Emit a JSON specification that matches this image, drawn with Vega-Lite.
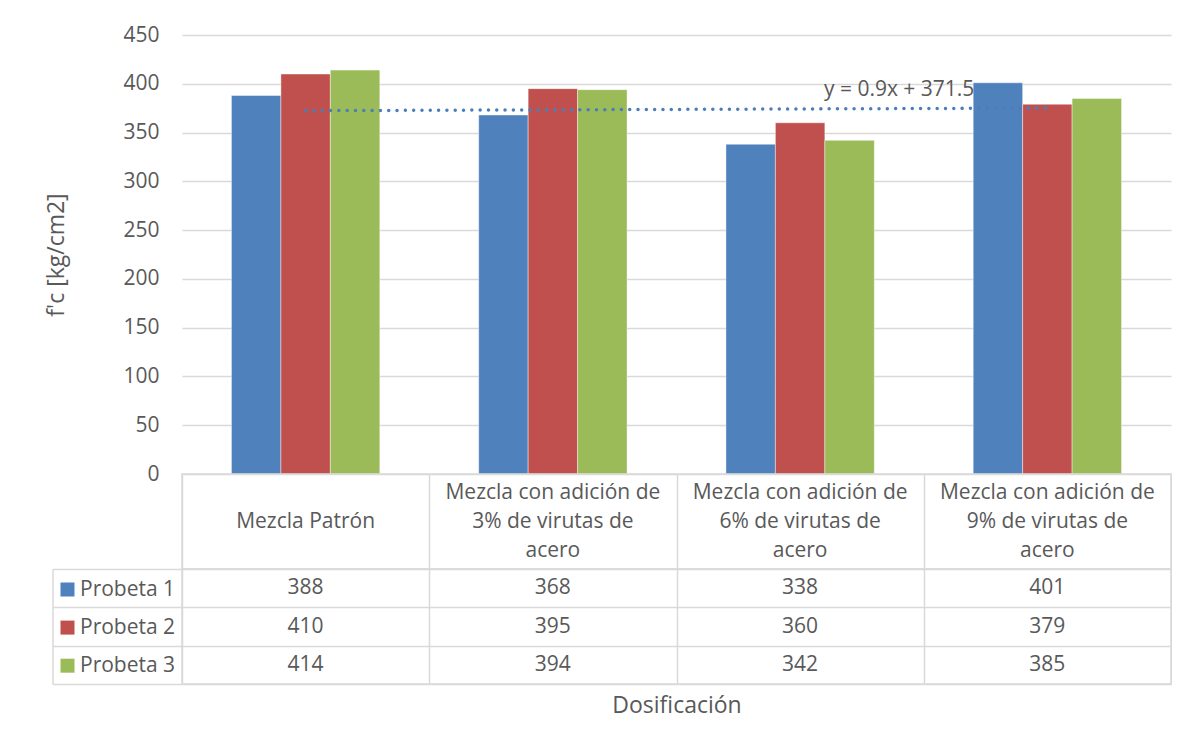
{
  "$schema": "https://vega.github.io/schema/vega-lite/v6.json",
  "background": "white",
  "padding": {"left": 45, "top": 24, "right": 0, "bottom": 0},
  "bounds": "flush",
  "config": {
    "font": "Open Sans",
    "view": {"stroke": null},
    "concat": {"spacing": 0},
    "axis": {
      "labelColor": "#595959",
      "titleColor": "#595959",
      "labelFont": "Open Sans",
      "titleFont": "Open Sans",
      "titleFontWeight": "normal",
      "gridColor": "#d9d9d9",
      "gridWidth": 1.5,
      "domainColor": "#d9d9d9",
      "tickColor": "#d9d9d9"
    },
    "legend": {
      "orient": "none",
      "legendX": -125,
      "legendY": 544,
      "padding": 0,
      "symbolType": "square",
      "symbolSize": 196,
      "symbolStrokeWidth": 0,
      "labelFont": "Open Sans",
      "labelFontSize": 21,
      "labelColor": "#595959",
      "labelOffset": 2,
      "rowPadding": 16.1
    }
  },
  "datasets": {
    "probetas": [
      {"Dosificacion": "Mezcla Patrón", "Probeta": "Probeta 1", "fc": 388},
      {"Dosificacion": "Mezcla Patrón", "Probeta": "Probeta 2", "fc": 410},
      {"Dosificacion": "Mezcla Patrón", "Probeta": "Probeta 3", "fc": 414},
      {"Dosificacion": "Mezcla con adición de 3% de virutas de acero", "Probeta": "Probeta 1", "fc": 368},
      {"Dosificacion": "Mezcla con adición de 3% de virutas de acero", "Probeta": "Probeta 2", "fc": 395},
      {"Dosificacion": "Mezcla con adición de 3% de virutas de acero", "Probeta": "Probeta 3", "fc": 394},
      {"Dosificacion": "Mezcla con adición de 6% de virutas de acero", "Probeta": "Probeta 1", "fc": 338},
      {"Dosificacion": "Mezcla con adición de 6% de virutas de acero", "Probeta": "Probeta 2", "fc": 360},
      {"Dosificacion": "Mezcla con adición de 6% de virutas de acero", "Probeta": "Probeta 3", "fc": 342},
      {"Dosificacion": "Mezcla con adición de 9% de virutas de acero", "Probeta": "Probeta 1", "fc": 401},
      {"Dosificacion": "Mezcla con adición de 9% de virutas de acero", "Probeta": "Probeta 2", "fc": 379},
      {"Dosificacion": "Mezcla con adición de 9% de virutas de acero", "Probeta": "Probeta 3", "fc": 385}
    ],
    "tendencia": [
      {"Dosificacion": "Mezcla Patrón", "valor": 372.4},
      {"Dosificacion": "Mezcla con adición de 3% de virutas de acero", "valor": 373.3},
      {"Dosificacion": "Mezcla con adición de 6% de virutas de acero", "valor": 374.2},
      {"Dosificacion": "Mezcla con adición de 9% de virutas de acero", "valor": 375.1}
    ],
    "ecuacion": [
      {"Dosificacion": "Mezcla con adición de 9% de virutas de acero", "valor": 375.1, "texto": "y = 0.9x + 371.5"}
    ],
    "categorias": [
      {"Dosificacion": "Mezcla Patrón", "lineas": ["Mezcla Patrón"]},
      {"Dosificacion": "Mezcla con adición de 3% de virutas de acero", "lineas": ["Mezcla con adición de", "3% de virutas de", "acero"]},
      {"Dosificacion": "Mezcla con adición de 6% de virutas de acero", "lineas": ["Mezcla con adición de", "6% de virutas de", "acero"]},
      {"Dosificacion": "Mezcla con adición de 9% de virutas de acero", "lineas": ["Mezcla con adición de", "9% de virutas de", "acero"]}
    ]
  },
  "spacing": 0,
  "resolve": {"scale": {"x": "independent", "y": "independent"}},
  "vconcat": [
    {
      "width": 989,
      "height": 439,
      "layer": [
        {
          "data": {"name": "probetas"},
          "mark": {"type": "bar", "stroke": "#ffffff", "strokeWidth": 0.6, "strokeOpacity": 0.7},
          "encoding": {
            "x": {
              "field": "Dosificacion", "type": "nominal",
              "scale": {"domain": ["Mezcla Patrón", "Mezcla con adición de 3% de virutas de acero", "Mezcla con adición de 6% de virutas de acero", "Mezcla con adición de 9% de virutas de acero"], "paddingInner": 0, "paddingOuter": 0},
              "axis": null
            },
            "xOffset": {
              "field": "Probeta", "type": "nominal",
              "scale": {"domain": ["Probeta 1", "Probeta 2", "Probeta 3"], "paddingInner": 0, "paddingOuter": 1.1}
            },
            "y": {
              "field": "fc", "type": "quantitative", "title": "f'c [kg/cm2]",
              "scale": {"domain": [0, 450], "nice": false},
              "axis": {
                "values": [0, 50, 100, 150, 200, 250, 300, 350, 400, 450],
                "grid": true, "domain": false, "ticks": false,
                "labelFontSize": 21, "labelPadding": 23,
                "titleFontSize": 23, "titlePadding": 54
              }
            },
            "color": {
              "field": "Probeta", "type": "nominal",
              "scale": {"domain": ["Probeta 1", "Probeta 2", "Probeta 3"], "range": ["#4F81BD", "#C0504D", "#9BBB59"]},
              "legend": {"title": null}
            }
          }
        },
        {
          "data": {"name": "tendencia"},
          "mark": {"type": "line", "color": "#4A7EBB", "strokeWidth": 3.5, "strokeDash": [0.01, 8.3], "strokeCap": "round"},
          "encoding": {
            "x": {"field": "Dosificacion", "type": "nominal"},
            "y": {"field": "valor", "type": "quantitative", "title": "f'c [kg/cm2]"}
          }
        },
        {
          "data": {"name": "ecuacion"},
          "mark": {"type": "text", "align": "right", "baseline": "middle", "dx": -73, "dy": -17.6, "fontSize": 21, "color": "#595959"},
          "encoding": {
            "x": {"field": "Dosificacion", "type": "nominal"},
            "y": {"field": "valor", "type": "quantitative", "title": "f'c [kg/cm2]"},
            "text": {"field": "texto"}
          }
        }
      ]
    },
    {
      "width": 989,
      "height": 95,
      "view": {"stroke": "#d9d9d9", "strokeWidth": 1.5},
      "data": {"name": "categorias"},
      "encoding": {
        "x": {
          "field": "Dosificacion", "type": "nominal",
          "scale": {"domain": ["Mezcla Patrón", "Mezcla con adición de 3% de virutas de acero", "Mezcla con adición de 6% de virutas de acero", "Mezcla con adición de 9% de virutas de acero"], "paddingInner": 0, "paddingOuter": 0},
          "axis": {"grid": true, "tickBand": "extent", "labels": false, "ticks": false, "domain": false, "title": null}
        },
        "text": {"field": "lineas"}
      },
      "layer": [
        {
          "transform": [{"filter": "length(datum.lineas) == 1"}],
          "mark": {"type": "text", "fontSize": 21, "lineHeight": 29, "color": "#595959", "baseline": "middle"}
        },
        {
          "transform": [{"filter": "length(datum.lineas) == 3"}],
          "mark": {"type": "text", "fontSize": 21, "lineHeight": 29, "color": "#595959", "baseline": "middle", "dy": -29}
        }
      ]
    },
    {
      "width": 989,
      "height": 115,
      "view": {"stroke": "#d9d9d9", "strokeWidth": 1.5},
      "data": {"name": "probetas"},
      "mark": {"type": "text", "fontSize": 21, "color": "#595959", "baseline": "middle"},
      "encoding": {
        "x": {
          "field": "Dosificacion", "type": "nominal",
          "scale": {"domain": ["Mezcla Patrón", "Mezcla con adición de 3% de virutas de acero", "Mezcla con adición de 6% de virutas de acero", "Mezcla con adición de 9% de virutas de acero"], "paddingInner": 0, "paddingOuter": 0},
          "axis": {"grid": true, "tickBand": "extent", "labels": false, "ticks": false, "domain": false, "title": "Dosificación", "titleFontSize": 23, "titlePadding": 10}
        },
        "y": {
          "field": "Probeta", "type": "nominal",
          "scale": {"domain": ["Probeta 1", "Probeta 2", "Probeta 3"], "paddingInner": 0, "paddingOuter": 0},
          "axis": {"offset": 129.5, "domain": true, "domainWidth": 1.5, "ticks": true, "tickSize": -129.5, "tickWidth": 1.5, "tickBand": "extent", "labels": false, "grid": true, "title": null}
        },
        "text": {"field": "fc", "type": "quantitative"}
      }
    }
  ]
}
